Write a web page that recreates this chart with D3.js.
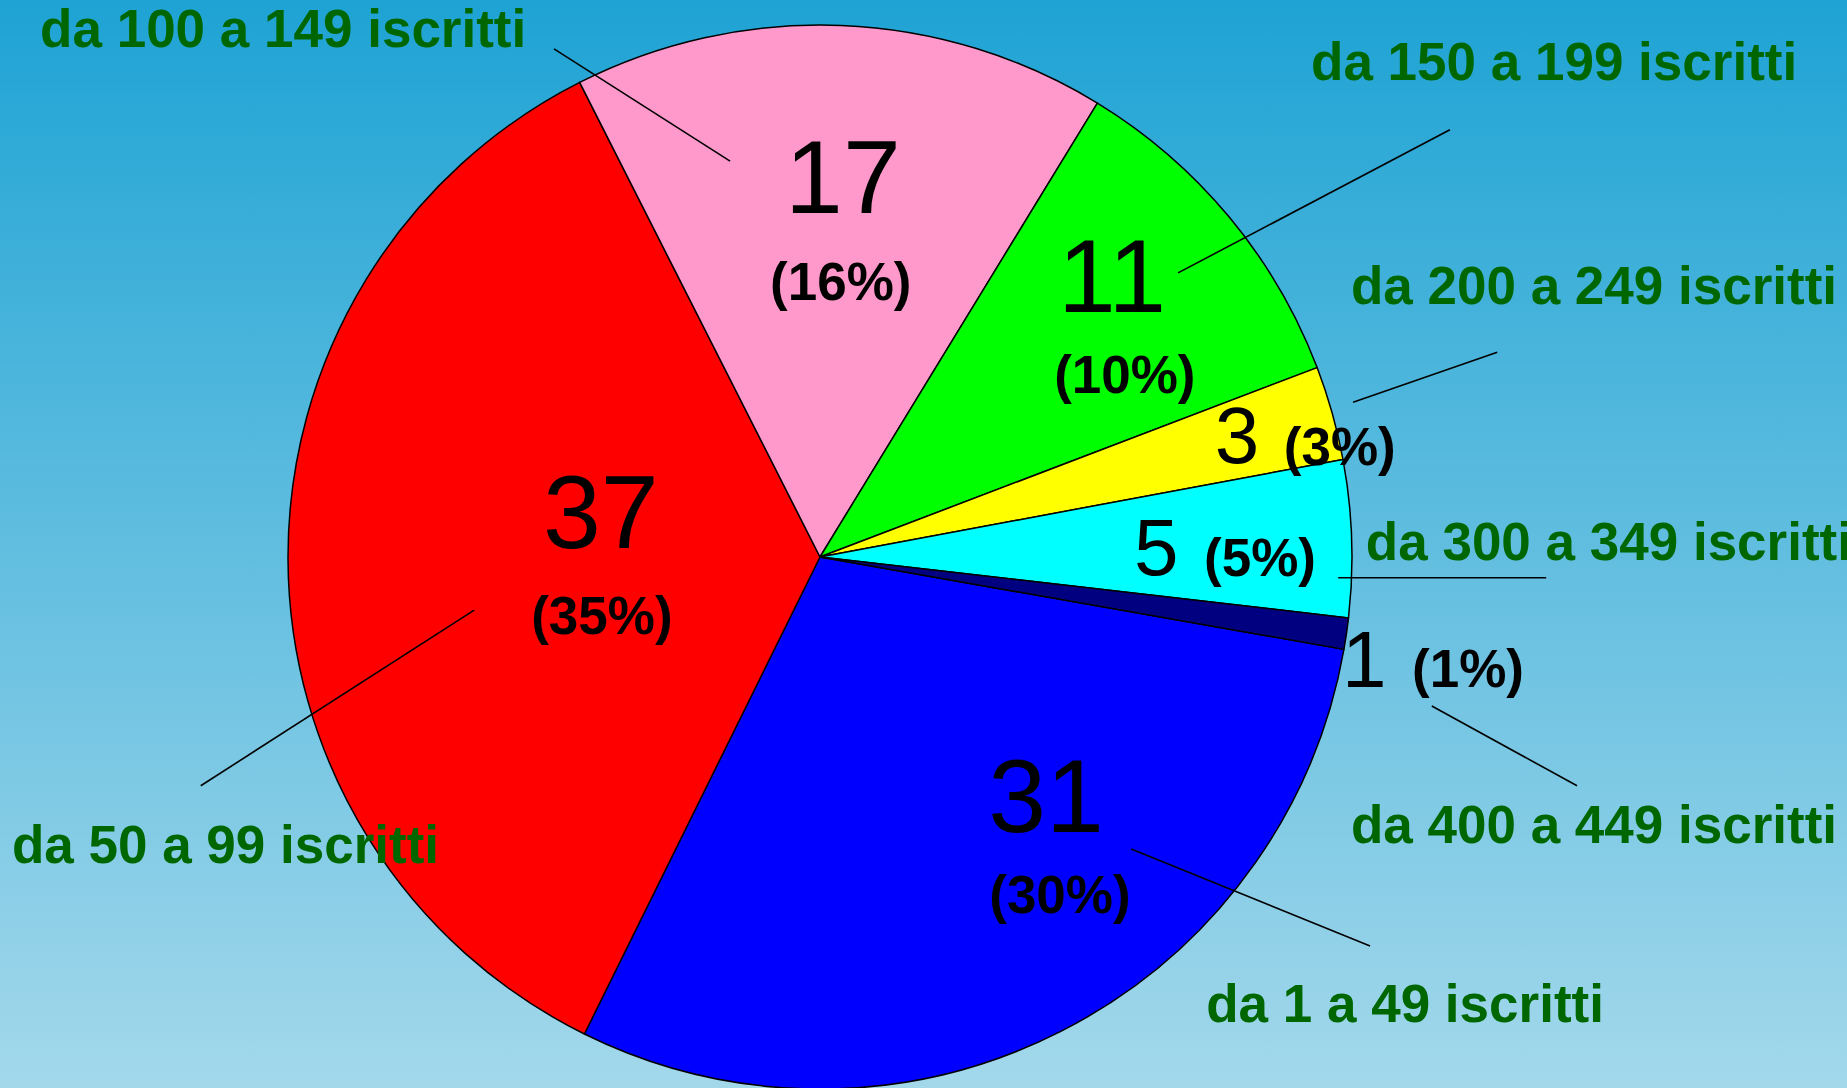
<!DOCTYPE html>
<html>
<head>
<meta charset="utf-8">
<script src="https://cdn.jsdelivr.net/npm/d3@7"></script>
<style>
  html, body { margin: 0; padding: 0; overflow: hidden; }
  svg { display: block; font-family: "Liberation Sans", Arial, sans-serif; }
</style>
</head>
<body>
<div id="chart"></div>
<script>
// data
var categories = ["da 1 a 49 iscritti", "da 50 a 99 iscritti", "da 100 a 149 iscritti",
  "da 150 a 199 iscritti", "da 200 a 249 iscritti", "da 300 a 349 iscritti", "da 400 a 449 iscritti"];
var values = [31, 37, 17, 11, 3, 5, 1];
var colors = ["#0000ff", "#ff0000", "#ff99cc", "#00ff00", "#ffff00", "#00ffff", "#000080"];

// svg size
var svgWidth = 1847;
var svgHeight = 1088;

// pie geometry
var cx = 820, cy = 557, radius = 532;

// label layout, in units of the radius, relative to the pie centre
// value label (centre, baseline), percent label (centre, baseline), category label (left, baseline), leader line
var valuePos = [[0.425, 0.517], [-0.412, -0.017], [0.043, -0.647], [0.549, -0.461], [0.784, -0.177], [0.632, 0.034], [1.023, 0.244]];
var percentPos = [[0.451, 0.669], [-0.410, 0.145], [0.039, -0.483], [0.573, -0.308], [0.977, -0.173], [0.827, 0.036], [1.218, 0.244]];
var valueSize = [104, 104, 104, 104, 80, 80, 80];
var catPos = [[0.726, 0.874], [-1.519, 0.575], [-1.466, -0.959], [0.923, -0.897], [0.998, -0.476], [1.026, 0.006], [0.998, 0.538]];
var leaders = [
  [[0.585, 0.549], [1.034, 0.731]],
  [[-1.164, 0.430], [-0.650, 0.100]],
  [[-0.500, -0.955], [-0.169, -0.744]],
  [[1.184, -0.803], [0.673, -0.534]],
  [[1.273, -0.385], [1.002, -0.291]],
  [[0.974, 0.039], [1.365, 0.039]],
  [[1.150, 0.280], [1.423, 0.430]]
];

var total = d3.sum(values);

var svg = d3.select("#chart")
  .append("svg")
  .attr("width", svgWidth)
  .attr("height", svgHeight);

// background gradient
var grad = svg.append("defs").append("linearGradient")
  .attr("id", "bg")
  .attr("x1", 0).attr("y1", 0).attr("x2", 0).attr("y2", 1);
grad.append("stop").attr("offset", "0%").attr("stop-color", "#1ea3d4");
grad.append("stop").attr("offset", "100%").attr("stop-color", "#a3d8eb");

svg.append("rect")
  .attr("width", svgWidth)
  .attr("height", svgHeight)
  .attr("fill", "url(#bg)");

var pieGroup = svg.append("g")
  .attr("transform", `translate(${cx}, ${cy})`);

// first slice starts at 100 degrees, clockwise
var pie = d3.pie()
  .sort(null)
  .startAngle(100 * Math.PI / 180)
  .endAngle(460 * Math.PI / 180);

var arc = d3.arc()
  .innerRadius(0)
  .outerRadius(radius);

pieGroup.selectAll("path.slice")
  .data(pie(values))
  .enter()
  .append("path")
  .attr("class", "slice")
  .attr("d", arc)
  .attr("fill", (d, i) => colors[i])
  .attr("stroke", "#000")
  .attr("stroke-width", 1.5)
  .attr("stroke-linejoin", "round");

// leader lines
pieGroup.selectAll("line.leader")
  .data(leaders)
  .enter()
  .append("line")
  .attr("class", "leader")
  .attr("x1", d => d[0][0] * radius)
  .attr("y1", d => d[0][1] * radius)
  .attr("x2", d => d[1][0] * radius)
  .attr("y2", d => d[1][1] * radius)
  .attr("stroke", "#000")
  .attr("stroke-width", 1.6);

// value labels
pieGroup.selectAll("text.value")
  .data(values)
  .enter()
  .append("text")
  .attr("class", "value")
  .attr("x", (d, i) => valuePos[i][0] * radius)
  .attr("y", (d, i) => valuePos[i][1] * radius)
  .attr("text-anchor", "middle")
  .style("font-size", (d, i) => valueSize[i] + "px")
  .attr("fill", "#000")
  .text(d => d);

// percent labels
pieGroup.selectAll("text.pct")
  .data(values)
  .enter()
  .append("text")
  .attr("class", "pct")
  .attr("x", (d, i) => percentPos[i][0] * radius)
  .attr("y", (d, i) => percentPos[i][1] * radius)
  .attr("text-anchor", "middle")
  .style("font-size", "53px")
  .style("font-weight", "bold")
  .attr("fill", "#000")
  .text(d => "(" + Math.round(d / total * 100) + "%)");

// category labels
pieGroup.selectAll("text.cat")
  .data(categories)
  .enter()
  .append("text")
  .attr("class", "cat")
  .attr("x", (d, i) => catPos[i][0] * radius)
  .attr("y", (d, i) => catPos[i][1] * radius)
  .style("font-size", "53px")
  .style("font-weight", "bold")
  .attr("fill", "#006600")
  .text(d => d);
</script>
</body>
</html>
